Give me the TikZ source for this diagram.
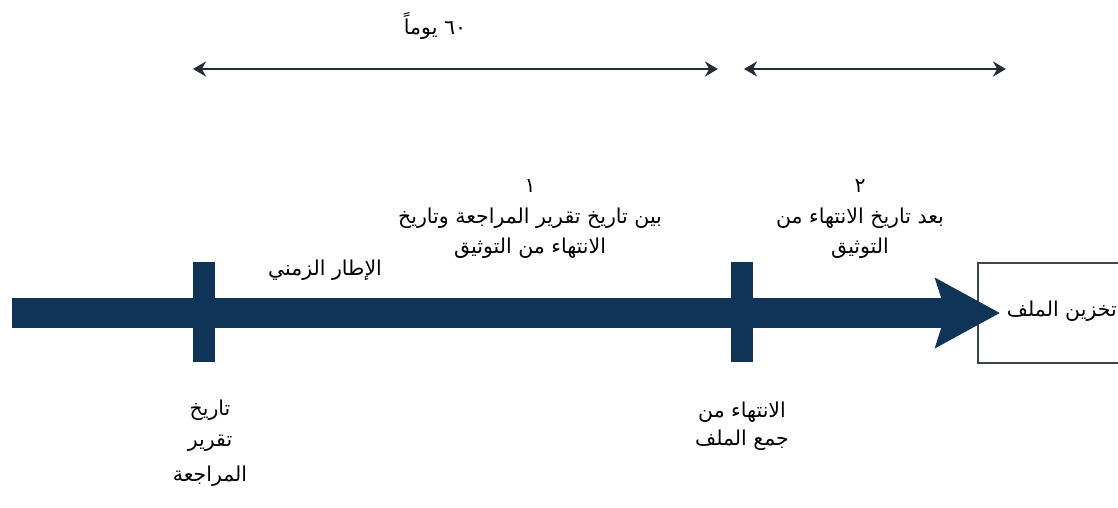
\documentclass[tikz,border=0pt]{standalone}
\usepackage{fontspec}
\usetikzlibrary{arrows.meta}
\TeXXeTstate=1
\newfontfamily\arabicfont[Script=Arabic]{DejaVu Sans}
\newcommand\rtl[1]{\beginR#1\endR}
\definecolor{navy}{RGB}{16,52,88}
\definecolor{thinline}{RGB}{35,45,55}
\definecolor{boxline}{RGB}{60,70,80}
\tikzset{
  lbl/.style={font=\arabicfont\fontsize{20.5}{30}\selectfont, text=black, align=center, inner sep=0pt},
  bar/.style={fill=navy, draw=none, minimum width=22pt, minimum height=100pt, inner sep=0pt},
  span/.style={draw=thinline, line width=2.5pt, {Stealth[length=13pt,width=15pt]}-{Stealth[length=13pt,width=15pt]}},
  mainarrow/.style={draw=navy, line width=30pt, -{Stealth[length=64pt,width=68pt,inset=10pt]}},
  storebox/.style={draw=boxline, line width=2pt, fill=white, minimum width=160pt, minimum height=100pt, inner sep=0pt}
}
\begin{document}
\begin{tikzpicture}[x=1pt,y=-1pt]
\useasboundingbox (0,0) rectangle (1118,508);
% storage box
\node[storebox, anchor=west] (store) at (977,313) {};
\node[lbl, anchor=east] (storetxt) at (1117,311) {\rtl{تخزين الملف}};
% main arrow
\coordinate (mstart) at (12,313);
\draw[mainarrow] (mstart) -- ([xshift=23pt]store.west);
% bars
\node[bar] (b1) at (204,312) {};
\node[bar] (b2) at (742,312) {};
% top span arrows
\coordinate (s1l) at (193,69);
\coordinate (s1r) at (718,69);
\coordinate (s2l) at (744,69);
\coordinate (s2r) at (1006,69);
\draw[span] (s1l) -- (s1r);
\draw[span] (s2l) -- (s2r);
% labels
\node[lbl] (days) at (435,26) {\rtl{\beginL ٦٠\endL\ يوماً}};
\node[lbl] (n1) at (530,186) {١};
\node[lbl] (p1a) at (530,218) {\rtl{بين تاريخ تقرير المراجعة وتاريخ}};
\node[lbl] (p1b) at (530,248) {\rtl{الانتهاء من التوثيق}};
\node[lbl] (n2) at (860,186) {٢};
\node[lbl] (p2a) at (860,218) {\rtl{بعد تاريخ الانتهاء من}};
\node[lbl] (p2b) at (860,248) {\rtl{التوثيق}};
\node[lbl] (frame) at (325,270) {\rtl{الإطار الزمني}};
\node[lbl] (d1a) at (210,410) {\rtl{تاريخ}};
\node[lbl] (d1b) at (210,443) {\rtl{تقرير}};
\node[lbl] (d1c) at (210,476) {\rtl{المراجعة}};
\node[lbl] (d2a) at (742,412) {\rtl{الانتهاء من}};
\node[lbl] (d2b) at (742,440) {\rtl{جمع الملف}};
\end{tikzpicture}
\end{document}
